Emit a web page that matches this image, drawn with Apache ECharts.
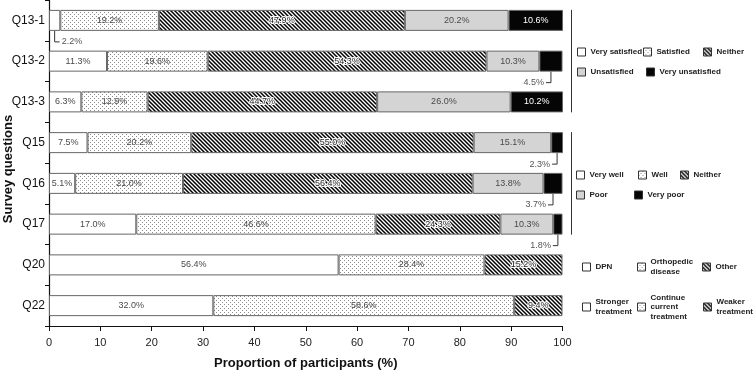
<!DOCTYPE html>
<html><head><meta charset="utf-8">
<script src="https://cdn.jsdelivr.net/npm/echarts@6/dist/echarts.min.js"></script>
<style>html,body{margin:0;padding:0;background:#fff}#c{width:755px;height:372px}</style>
</head><body><div id="c"></div>
<script>
// ---------- DATA ----------
const categories = ['Q13-1','Q13-2','Q13-3','Q15','Q16','Q17','Q20','Q22'];
const xTickInterval = 10;

// Q13: satisfaction
const satRows = ['Q13-1','Q13-2','Q13-3'];
const verySatisfied   = [2.2, 11.3, 6.3];
const satisfied       = [19.2, 19.6, 12.9];
const neitherSat      = [47.9, 54.3, 44.7];
const unsatisfied     = [20.2, 10.3, 26.0];
const veryUnsatisfied = [10.6, 4.5, 10.2];

// Q15-Q17: how well
const wellRows = ['Q15','Q16','Q17'];
const veryWell    = [7.5, 5.1, 17.0];
const well        = [20.2, 21.0, 46.6];
const neitherWell = [55.0, 56.4, 24.3];
const poor        = [15.1, 13.8, 10.3];
const veryPoor    = [2.3, 3.7, 1.8];

// Q20: cause
const causeRows = ['Q20'];
const dpn        = [56.4];
const orthopedic = [28.4];
const other      = [15.2];

// Q22: treatment
const treatRows = ['Q22'];
const stronger        = [32.0];
const continueCurrent = [58.6];
const weaker          = [9.4];

// ---------- STYLE ----------
const FONT = '"Liberation Sans", Arial, Helvetica, sans-serif';
function makeCanvas(w, h, draw) { const c = document.createElement('canvas'); c.width = w; c.height = h; draw(c.getContext('2d')); return c; }
const dotPattern = { image: makeCanvas(4, 4, g => { g.fillStyle = '#fff'; g.fillRect(0,0,4,4); g.fillStyle = '#8c8c8c'; g.fillRect(0,0,1,1); g.fillRect(2,2,1,1); }), repeat: 'repeat' };
const hatchPattern = { image: makeCanvas(4, 4, g => { g.fillStyle = '#fff'; g.fillRect(0,0,4,4); g.strokeStyle = '#000'; g.lineWidth = 1.5; g.beginPath(); for (const k of [-4,0,4]) { g.moveTo(k-1,-1); g.lineTo(k+5,5); } g.stroke(); }), repeat: 'repeat' };
const fills = { white: '#ffffff', dot: dotPattern, hatch: hatchPattern, gray: '#d4d4d4', black: '#050505' };

const groups = [
  { rows: satRows, items: [['Very satisfied', verySatisfied, 'white'], ['Satisfied', satisfied, 'dot'], ['Neither', neitherSat, 'hatch'], ['Unsatisfied', unsatisfied, 'gray'], ['Very unsatisfied', veryUnsatisfied, 'black']] },
  { rows: wellRows, items: [['Very well', veryWell, 'white'], ['Well', well, 'dot'], ['Neither', neitherWell, 'hatch'], ['Poor', poor, 'gray'], ['Very poor', veryPoor, 'black']] },
  { rows: causeRows, items: [['DPN', dpn, 'white'], ['Orthopedic disease', orthopedic, 'dot'], ['Other', other, 'hatch']] },
  { rows: treatRows, items: [['Stronger treatment', stronger, 'white'], ['Continue current treatment', continueCurrent, 'dot'], ['Weaker treatment', weaker, 'hatch']] }
];

const BAR_W = 21;
const series = [];
const smallSegs = [];
groups.forEach(gr => {
  const cum = gr.rows.map(() => 0);
  gr.items.forEach(([name, vals, kind]) => {
    const data = categories.map(c => { const i = gr.rows.indexOf(c); return i < 0 ? '-' : vals[i]; });
    vals.forEach((v, i) => { if (v < 5) smallSegs.push([cum[i], cum[i] + v, gr.rows[i], v]); cum[i] += v; });
    series.push({
      type: 'bar', name, stack: 'all', barWidth: BAR_W, data,
      itemStyle: { color: fills[kind], borderColor: '#666', borderWidth: 1 },
      label: {
        show: true, position: 'inside',
        formatter: p => (p.value >= 5 ? p.value.toFixed(1) + '%' : ''),
        color: kind === 'black' ? '#fff' : (kind === 'hatch' ? '#222' : '#4a4a4a'), fontSize: 9, fontFamily: FONT,
        textBorderColor: kind === 'hatch' ? '#fff' : 'transparent', textBorderWidth: kind === 'hatch' ? 2 : 0
      },
      emphasis: { disabled: true }
    });
  });
});

// small value callouts
series.push({
  type: 'custom', name: 'callouts', silent: true,
  encode: { x: [0, 1], y: 2 },
  data: smallSegs,
  renderItem(params, api) {
    const s = api.value(0), e = api.value(1), v = api.value(3);
    const mid = (s + e) / 2;
    const p = api.coord([mid, api.value(2)]);
    const y0 = p[1] + BAR_W / 2, y1 = y0 + 11;
    const dir = mid < 50 ? 1 : -1;
    const x2 = p[0] + dir * 5;
    return { type: 'group', children: [
      { type: 'polyline', shape: { points: [[p[0], y0], [p[0], y1], [x2, y1]] }, style: { stroke: '#333', lineWidth: 1, fill: null } },
      { type: 'text', style: { text: v.toFixed(1) + '%', x: x2 + dir * 2, y: y1, align: dir > 0 ? 'left' : 'right', verticalAlign: 'middle', fill: '#555', font: '9px ' + FONT } }
    ] };
  }
});

// group separators right of bars
series.push({
  type: 'custom', name: 'separators', silent: true,
  encode: { x: 0, y: [1, 2] },
  data: [[100, satRows[0], satRows[satRows.length - 1]], [100, wellRows[0], wellRows[wellRows.length - 1]]],
  renderItem(params, api) {
    const a = api.coord([api.value(0), api.value(1)]);
    const b = api.coord([api.value(0), api.value(2)]);
    const x = a[0] + 9;
    return { type: 'line', shape: { x1: x, y1: a[1] - BAR_W / 2, x2: x, y2: b[1] + BAR_W / 2 }, style: { stroke: '#333', lineWidth: 1 } };
  }
});

// legends
const legendBreak = { 'Orthopedic disease': 'Orthopedic\ndisease', 'Stronger treatment': 'Stronger\ntreatment', 'Continue current treatment': 'Continue\ncurrent\ntreatment', 'Weaker treatment': 'Weaker\ntreatment' };
const LH = 9.5;
const legendSpecs = [
  ['Very satisfied', 577, 52], ['Satisfied', 643, 52], ['Neither', 703, 52],
  ['Unsatisfied', 577, 72], ['Very unsatisfied', 646, 72],
  ['Very well', 576, 175], ['Well', 638, 175], ['Neither', 680, 175],
  ['Poor', 576, 195], ['Very poor', 634, 195],
  ['DPN', 582, 267], ['Orthopedic disease', 637, 267], ['Other', 702, 267],
  ['Stronger treatment', 582, 307], ['Continue current treatment', 637, 307], ['Weaker treatment', 703, 307]
];
const legends = legendSpecs.map(([name, x, cy]) => {
  const lines = (legendBreak[name] || name).split('\n').length;
  return {
    data: [name], left: x, top: cy - lines * LH / 2, padding: 0, orient: 'horizontal',
    icon: 'rect', itemWidth: 8, itemHeight: 8, selectedMode: false,
    itemStyle: { borderColor: '#333', borderWidth: 1 },
    formatter: n => legendBreak[n] || n,
    textStyle: { fontSize: 8, fontWeight: 'bold', color: '#222', fontFamily: FONT, lineHeight: LH }
  };
});

const chart = echarts.init(document.getElementById('c'), null, { renderer: 'canvas' });
chart.setOption({
  animation: false,
  backgroundColor: '#fff',
  textStyle: { fontFamily: FONT },
  grid: { left: 49, right: 192.5, top: 0, bottom: 46, containLabel: false, outerBoundsMode: 'none' },
  legend: legends,
  xAxis: {
    type: 'value', min: 0, max: 100, interval: xTickInterval,
    name: 'Proportion of participants (%)', nameLocation: 'middle', nameGap: 31, nameMoveOverlap: false,
    nameTextStyle: { fontSize: 13, fontWeight: 'bold', color: '#111', fontFamily: FONT },
    axisLine: { show: true, lineStyle: { color: '#111', width: 1.2 } },
    axisTick: { show: true, length: 5, lineStyle: { color: '#111' } },
    axisLabel: { fontSize: 11, color: '#222', margin: 11, fontFamily: FONT },
    splitLine: { show: false }
  },
  yAxis: {
    type: 'category', data: categories, inverse: true,
    name: 'Survey questions', nameLocation: 'middle', nameGap: 34, nameMoveOverlap: false,
    nameTextStyle: { fontSize: 13, fontWeight: 'bold', color: '#111', fontFamily: FONT, padding: [0, 12, 0, 0] },
    axisLine: { show: true, lineStyle: { color: '#111', width: 1.2 } },
    axisTick: { show: true, length: 4, lineStyle: { color: '#111' } },
    axisLabel: { fontSize: 12, color: '#111', margin: 4, fontFamily: FONT },
    splitLine: { show: false }
  },
  series
});
</script>
</body></html>
